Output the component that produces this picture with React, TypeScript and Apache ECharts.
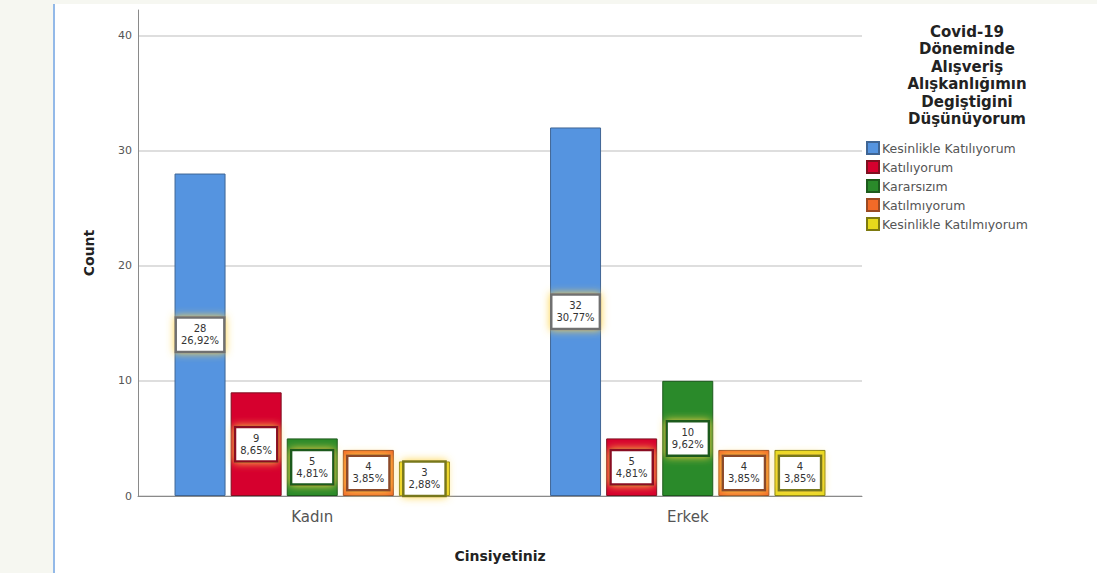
import React, { useEffect, useRef } from "react";
import * as echarts from "echarts";

const categories = ["Kadın", "Erkek"];
const seriesNames = [
  "Kesinlikle Katılıyorum",
  "Katılıyorum",
  "Kararsızım",
  "Katılmıyorum",
  "Kesinlikle Katılmıyorum",
];
const kadinCounts = [28, 9, 5, 4, 3];
const erkekCounts = [32, 5, 10, 4, 4];
const yTicks = [0, 10, 20, 30, 40];

const fillColors = ["#5594e0", "#d6002e", "#2a8a2a", "#f26a28", "#e6da1c"];
const edgeColors = ["#3f6594", "#7d1020", "#1c5a1c", "#9a4a22", "#7d7a10"];
const labelEdge = ["#707070", "#8a0f22", "#1e5a1e", "#8b4a2a", "#77771a"];

const FONT = "'DejaVu Sans', 'Liberation Sans', Arial, sans-serif";

export default function App() {
  const ref = useRef<HTMLDivElement>(null);

  useEffect(() => {
    document.body.style.margin = "0";
    if (!ref.current) return;
    const chart = echarts.init(ref.current, undefined, { renderer: "svg" });
    const total =
      kadinCounts.reduce((a, b) => a + b, 0) + erkekCounts.reduce((a, b) => a + b, 0);

    const series = seriesNames.map((name, i) => ({
      name,
      type: "bar",
      barWidth: 51,
      barGap: "10%",
      data: [
        [1, kadinCounts[i]],
        [2, erkekCounts[i]],
      ],
      itemStyle: {
        color: fillColors[i],
        borderColor: edgeColors[i],
        borderWidth: 1,
      },
      label: {
        show: true,
        position: "inside",
        formatter: (p: any) => {
          const v = p.value[1];
          const pct = ((v / total) * 100).toFixed(2).replace(".", ",");
          return `${v}\n${pct}%`;
        },
        fontFamily: FONT,
        fontSize: 10,
        lineHeight: 12,
        color: "#333",
        align: "center",
        backgroundColor: "#ffffff",
        borderColor: labelEdge[i],
        borderWidth: 2.5,
        padding: [4, 4],
        shadowColor: "rgba(255,212,70,1)",
        shadowBlur: 8,
      },
    }));

    chart.setOption({
      animation: false,
      backgroundColor: "transparent",
      title: {
        text: "Covid-19\nDöneminde\nAlışveriş\nAlışkanlığımın\nDegiştigini\nDüşünüyorum",
        left: 962,
        top: 18,
        textAlign: "center",
        textStyle: {
          fontFamily: FONT,
          fontSize: 15,
          fontWeight: "bold",
          lineHeight: 17.5,
          color: "#222",
        },
      },
      legend: {
        orient: "vertical",
        left: 861,
        top: 136,
        itemWidth: 12,
        itemHeight: 12,
        itemGap: 5,
        icon: "rect",
        textStyle: { fontFamily: FONT, fontSize: 12.5, color: "#555", padding: [0, 0, 0, -2] },
        data: seriesNames,
      },
      grid: { left: 138, top: 10, width: 724, height: 486, containLabel: false },
      xAxis: {
        type: "value",
        min: 0.536,
        max: 2.464,
        name: "Cinsiyetiniz",
        nameLocation: "middle",
        nameGap: 53,
        nameTextStyle: { fontFamily: FONT, fontSize: 14, fontWeight: "bold", color: "#222" },
        axisLine: { show: true, lineStyle: { color: "#8a8a8a", width: 1 } },
        axisTick: { show: false },
        splitLine: { show: false },
        axisLabel: {
          customValues: [1, 2],
          formatter: (v: number) => categories[Math.round(v) - 1] ?? "",
          fontFamily: FONT,
          fontSize: 15,
          color: "#555",
          margin: 13,
        },
      },
      yAxis: {
        type: "value",
        min: 0,
        max: 42.2,
        interval: 10,
        name: "Count",
        nameLocation: "middle",
        nameRotate: 90,
        nameGap: 42,
        nameTextStyle: { fontFamily: FONT, fontSize: 14, fontWeight: "bold", color: "#222" },
        axisLine: { show: true, lineStyle: { color: "#8a8a8a", width: 1 } },
        axisTick: { show: false },
        axisLabel: {
          fontFamily: FONT,
          fontSize: 11,
          color: "#555",
          margin: 6,
          showMaxLabel: false,
          formatter: (v: number) => (yTicks.includes(v) ? String(v) : ""),
        },
        splitLine: {
          show: true,
          lineStyle: {
            color: ["#d3d3d3", "#d3d3d3", "#d3d3d3", "#d3d3d3", "#d3d3d3", "rgba(0,0,0,0)"],
            width: 1.5,
          },
        },
      },
      series,
    });
    return () => chart.dispose();
  }, []);

  return (
    <div style={{ position: "relative", width: 1097, height: 573, background: "#f6f7f1", overflow: "hidden" }}>
      <div
        style={{
          position: "absolute",
          left: 53,
          top: 4,
          width: 1044,
          height: 569,
          background: "#ffffff",
          borderLeft: "2px solid #93b9e8",
        }}
      />
      <div ref={ref} style={{ position: "absolute", left: 0, top: 0, width: 1097, height: 573 }} />
    </div>
  );
}
